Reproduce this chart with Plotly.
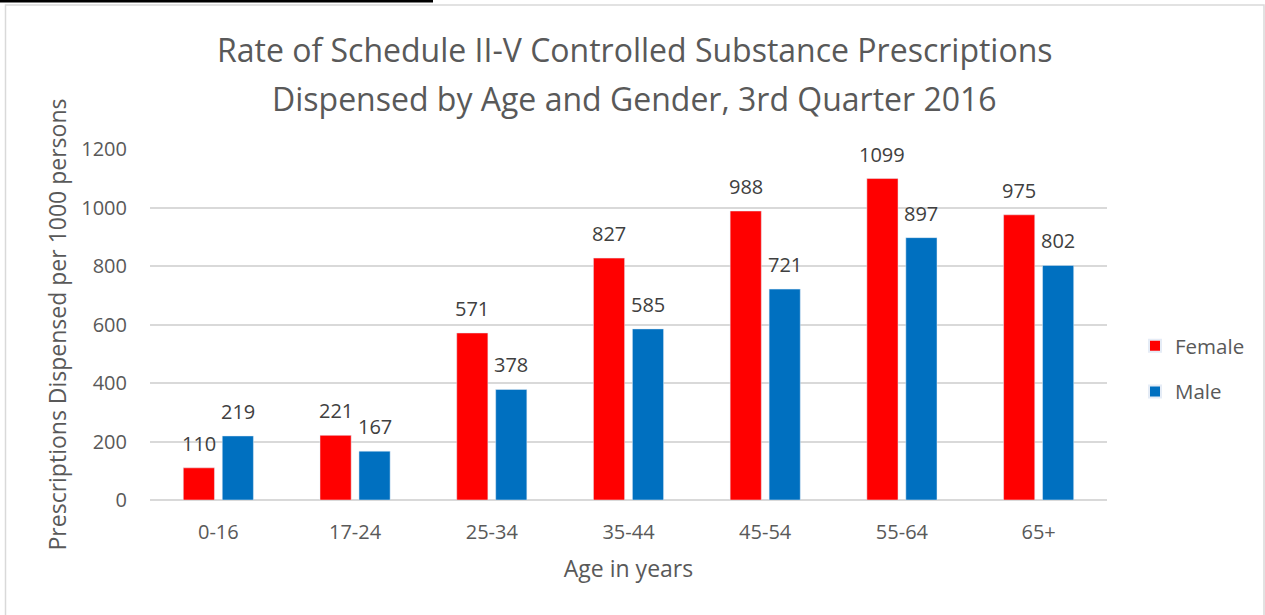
import plotly.graph_objects as go

categories = ["0-16", "17-24", "25-34", "35-44", "45-54", "55-64", "65+"]
female = [110, 221, 571, 827, 988, 1099, 975]
male = [219, 167, 378, 585, 721, 897, 802]
y_ticks = [0, 200, 400, 600, 800, 1000, 1200]
title_lines = ["Rate of Schedule II-V Controlled Substance Prescriptions",
               "Dispensed by Age and Gender, 3rd Quarter 2016"]

FONT = "Open Sans"
GREY = "#595959"
LABEL = "#404040"

fig = go.Figure()
fig.add_trace(go.Bar(x=categories, y=female, name="Female", marker_color="#FF0000",
                     legendgroup="f"))
fig.add_trace(go.Bar(x=categories, y=male, name="Male", marker_color="#0070C0",
                     legendgroup="m"))

W, H = 1265, 615
L, R, T, B = 150, 158, 149, 115
pw, ph = W - L - R, H - T - B

def px(x):
    return (x - L) / pw

def py(y):
    return (H - B - y) / ph

annotations = []
for vals, dx in ((female, -19.5), (male, 19.5)):
    for c, v in zip(categories, vals):
        annotations.append(dict(
            x=c, y=v, xref="x", yref="y", text=str(v), showarrow=False,
            xanchor="center", yanchor="bottom", xshift=dx, yshift=9,
            font=dict(size=20, color=LABEL, family=FONT),
        ))
for line, yc in zip(title_lines, (50, 99)):
    annotations.append(dict(
        x=px(W / 2 + 2), xref="paper", y=py(yc), yref="paper", text=line,
        showarrow=False, xanchor="center", yanchor="middle",
        font=dict(size=32, color=GREY, family=FONT),
    ))

fig.update_layout(
    width=W, height=H,
    margin=dict(l=L, r=R, t=T, b=B, pad=0),
    paper_bgcolor="white", plot_bgcolor="white",
    barmode="group", bargap=0.43, bargroupgap=0.2,
    font=dict(family=FONT, color=GREY),
    xaxis=dict(
        title=dict(text="Age in years", font=dict(size=23, color=GREY), standoff=16),
        tickfont=dict(size=20, color=GREY), showgrid=False, showline=False, ticks="",
        ticklabelstandoff=18,
    ),
    yaxis=dict(
        title=dict(text="Prescriptions Dispensed per 1000 persons", font=dict(size=23, color=GREY), standoff=8),
        range=[0, 1200], tickvals=y_ticks, tickfont=dict(size=20, color=GREY),
        showgrid=True, gridcolor="#D9D9D9", gridwidth=1.5,
        zeroline=True, zerolinecolor="#D9D9D9", zerolinewidth=1.5,
        ticks="", ticklabelstandoff=22,
    ),
    legend=dict(
        x=px(1135), y=py(369), xanchor="left", yanchor="middle",
        font=dict(size=20.5, color=GREY), traceorder="grouped", tracegroupgap=16,
        itemsizing="constant", bgcolor="rgba(0,0,0,0)",
    ),
    showlegend=True,
    annotations=annotations,
    shapes=[
        dict(type="rect", xref="paper", yref="paper",
             x0=px(5.5), x1=px(1264), y0=py(5), y1=py(625),
             line=dict(color="#D9D9D9", width=1.5), layer="below"),
        dict(type="line", xref="paper", yref="paper",
             x0=px(0), x1=px(433), y0=py(1), y1=py(1),
             line=dict(color="black", width=3)),
    ],
)

fig.write_html(
    "out.html",
    config={"displayModeBar": False},
    post_script="document.body.style.margin='0';document.documentElement.style.overflow='hidden';document.body.style.overflow='hidden';",
)
